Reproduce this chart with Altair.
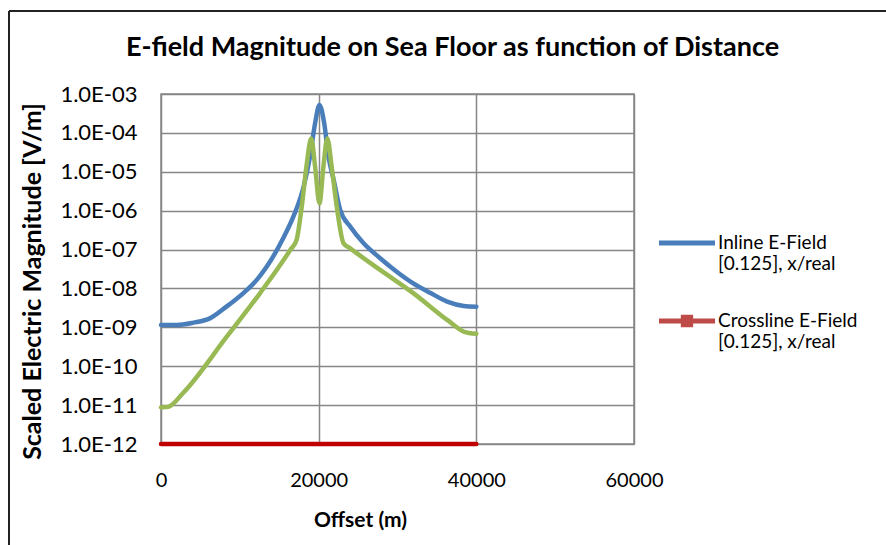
import altair as alt
import pandas as pd

# ---------------- data ----------------
INLINE = "Inline E-Field [0.125], x/real"
CROSS = "Crossline E-Field [0.125], x/real"
THIRD = "Crossline E-Field [0.125], y/real"

inline_offset = [0, 2000, 4100, 6200, 8300, 10450, 12150, 13400, 15500, 16800, 18100,
                 18900, 19550, 20100, 20700, 21250, 21900, 22730, 24000, 25700,
                 27800, 29900, 32000, 34200, 36300, 38400, 40000]
inline_value = [1.15e-9, 1.15e-9, 1.32e-9, 1.7e-9, 3.4e-9, 7.6e-9, 1.66e-8, 3.6e-8,
                1.95e-7, 7.1e-7, 4.2e-6, 2.45e-5, 1.78e-4, 5.2e-4, 1.78e-4, 2.45e-5,
                6.2e-6, 1.05e-6, 3.9e-7, 1.45e-7, 6.0e-8, 2.7e-8, 1.35e-8, 7.6e-9,
                4.6e-9, 3.55e-9, 3.4e-9]

cross_offset = [0, 40000]
cross_value = [1.0e-12, 1.0e-12]

third_offset = [0, 900, 2800, 8340, 12570, 16400, 17200, 17850, 18500, 19050,
                19550, 20100, 20600, 21100, 21650, 22300, 23150, 24000, 27800,
                32000, 36300, 38400, 40000]
third_value = [8.7e-12, 9.0e-12, 2.05e-11, 5.75e-10, 7.6e-9, 9.8e-8, 1.78e-7, 1.26e-6,
               1.66e-5, 7.2e-5, 1.35e-5, 1.55e-6, 1.35e-5, 7.2e-5, 1.35e-5, 1.26e-6,
               1.45e-7, 1.07e-7, 3.0e-8, 7.6e-9, 1.55e-9, 7.8e-10, 6.8e-10]

y_ticks = [1e-12, 1e-11, 1e-10, 1e-9, 1e-8, 1e-7, 1e-6, 1e-5, 1e-4, 1e-3]
x_ticks = [0, 20000, 40000, 60000]

# ---------------- tables ----------------
df_main = pd.concat([
    pd.DataFrame({"offset": inline_offset, "value": inline_value, "series": INLINE}),
    pd.DataFrame({"offset": cross_offset, "value": cross_value, "series": CROSS}),
])
df_third = pd.DataFrame({"offset": third_offset, "value": third_value, "series": THIRD})

BLUE = "#4A7EBB"
RED_LINE = "#C00000"
RED_LEG = "#BE4B48"
GREEN = "#98B954"
GRID = "#868686"
FONT = "Lato"

x_enc = alt.X(
    "offset:Q",
    scale=alt.Scale(domain=[0, 60000]),
    axis=alt.Axis(
        values=x_ticks, format="d", title="Offset (m)", grid=True,
        ticks=False, domain=False, labelPadding=26, labelFontSize=20,
        titleFontSize=21, titleFontWeight="bold", titleX=199, titleY=76,
        titleBaseline="middle", labelFlush=False,
    ),
)
y_enc = alt.Y(
    "value:Q",
    scale=alt.Scale(type="log", domain=[1e-12, 1e-3]),
    axis=alt.Axis(
        values=y_ticks, title="Scaled Electric Magnitude [V/m]", grid=True,
        ticks=False, domain=False, labelPadding=24, labelFontSize=22,
        labelExpr="'1.0E-' + (abs(round(log(datum.value)/LN10)) < 10 ? '0' : '') + abs(round(log(datum.value)/LN10))",
        titleFontSize=25, titleFontWeight="bold", titleX=-129, titleY=187,
        titleBaseline="middle", labelFlush=False,
    ),
)

base = alt.Chart(df_main)
line_kw = dict(strokeWidth=4.5, interpolate="monotone", clip=False, strokeCap="round")

blue_line = base.mark_line(color=BLUE, **line_kw).encode(
    x=x_enc, y=y_enc
).transform_filter(alt.datum.series == INLINE)

red_line = base.mark_line(color=RED_LINE, **line_kw).encode(
    x="offset:Q", y="value:Q"
).transform_filter(alt.datum.series == CROSS)

third = alt.Chart(df_third).mark_line(color=GREEN, **line_kw).encode(
    x="offset:Q", y="value:Q"
)

LINE_PATH = "M-1,-0.085H1V0.085H-1Z"
MARK_PATH = "M-1,-0.085H1V0.085H-1Z M-0.22,-0.22H0.22V0.22H-0.22Z"

legend_pts = base.mark_point(
    filled=True, opacity=0, size=3136
).encode(
    x="offset:Q", y="value:Q",
    color=alt.Color("series:N",
                    scale=alt.Scale(domain=[INLINE, CROSS], range=[BLUE, RED_LEG]),
                    legend=alt.Legend(title=None, orient="none", legendX=497, legendY=120)),
    shape=alt.Shape("series:N",
                    scale=alt.Scale(domain=[INLINE, CROSS], range=[LINE_PATH, MARK_PATH]),
                    legend=alt.Legend(
                        title=None, orient="none", legendX=497, legendY=120,
                        symbolSize=3136, symbolOpacity=1, labelFontSize=19,
                        labelFont=FONT, labelLimit=0,
                        labelOffset=2, rowPadding=18,
                        labelExpr="split(replace(datum.label, ' [', '|['), '|')",
                    )),
)

frame_top = alt.Chart(alt.Data(values=[{}])).mark_rule(
    color="#222222", strokeWidth=2
).encode(x=alt.value(-152), x2=alt.value(725), y=alt.value(-83))
frame_left = alt.Chart(alt.Data(values=[{}])).mark_rule(
    color="#222222", strokeWidth=2
).encode(x=alt.value(-152), y=alt.value(-83), y2=alt.value(451))

chart = alt.layer(frame_top, frame_left, blue_line, red_line, third, legend_pts).properties(
    width=473, height=350,
    background="#FFFFFF",
    autosize=alt.AutoSizeParams(type="none"),
    padding={"left": 161, "top": 94, "right": 252, "bottom": 101},
    title=alt.TitleParams(
        "E-field Magnitude on Sea Floor as function of Distance",
        fontSize=27, fontWeight="bold", font=FONT, anchor="middle",
        dx=55, dy=88, offset=36, color="#000000",
    ),
).configure_view(
    stroke=GRID, strokeWidth=1.5
).configure_axis(
    gridColor=GRID, gridWidth=1.5, gridOpacity=1, labelFont=FONT, titleFont=FONT,
    labelColor="#000000", titleColor="#000000",
).configure_legend(
    labelColor="#000000", labelFont=FONT,
)

chart.save("out.html", embed_options={"renderer": "svg", "actions": False})
